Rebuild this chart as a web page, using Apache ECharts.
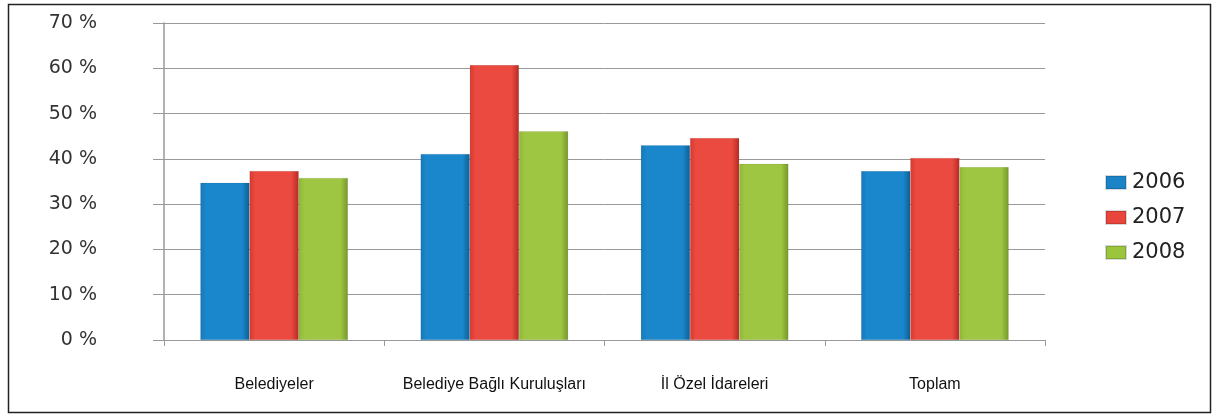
<!DOCTYPE html>
<html>
<head>
<meta charset="utf-8">
<script src="https://cdn.jsdelivr.net/npm/echarts@6/dist/echarts.min.js"></script>
<style>
html, body { margin: 0; padding: 0; background: #fff; }
#chart { width: 1214px; height: 416px; }
</style>
</head>
<body>
<div id="chart"></div>
<script>
var categories = ['Belediyeler', 'Belediye Bağlı Kuruluşları', 'İl Özel İdareleri', 'Toplam'];
var years = ['2006', '2007', '2008'];
var values2006 = [34.7, 41.1, 43.0, 37.3];
var values2007 = [37.3, 60.7, 44.6, 40.2];
var values2008 = [35.8, 46.1, 38.9, 38.2];
var yTicks = [0, 10, 20, 30, 40, 50, 60, 70];

function shade(edge, mid, edge2) {
    return new echarts.graphic.LinearGradient(0, 0, 1, 0, [
        { offset: 0, color: edge },
        { offset: 0.12, color: mid },
        { offset: 0.85, color: mid },
        { offset: 1, color: edge2 }
    ]);
}
var fills = [
    shade('#1679b9', '#1a87cc', '#0e5f94'),
    shade('#d8392f', '#ea4a40', '#b62a23'),
    shade('#8fb838', '#9fc642', '#74982a')
];
var legendColors = ['#1a84c7', '#e8453c', '#9bc53d'];
var seriesData = [values2006, values2007, values2008];

var chart = echarts.init(document.getElementById('chart'));
chart.setOption({
    animation: false,
    grid: { left: 164, right: 169, top: 23, bottom: 76, containLabel: false },
    graphic: [{
        type: 'rect',
        shape: { x: 8.5, y: 4.5, width: 1202, height: 408 },
        style: { fill: 'none', stroke: '#222', lineWidth: 1.5 }
    }],
    legend: {
        orient: 'vertical',
        left: 1100,
        top: 167,
        itemWidth: 20,
        itemHeight: 13,
        itemGap: 14,
        icon: 'rect',
        data: years.map(function (y, i) { return { name: y, itemStyle: { color: legendColors[i] } }; }),
        textStyle: { fontFamily: 'DejaVu Sans', fontSize: 21, color: '#222', padding: [0, 0, 0, 1] }
    },
    xAxis: {
        type: 'category',
        data: categories,
        axisLine: { lineStyle: { color: '#999', width: 1 } },
        axisTick: { show: true, interval: 0, length: 6, lineStyle: { color: '#999' } },
        axisLabel: { interval: 0, margin: 37, fontFamily: 'Liberation Sans Narrow, Arial Narrow, Liberation Sans', fontSize: 16, color: '#111' }
    },
    yAxis: {
        type: 'value',
        min: 0,
        max: 70,
        interval: 10,
        axisLine: { show: true, lineStyle: { color: '#999', width: 1.5 } },
        axisTick: { show: true, length: 11, lineStyle: { color: '#999' } },
        splitLine: { lineStyle: { color: '#999', width: 1 } },
        axisLabel: {
            margin: 67,
            fontFamily: 'DejaVu Sans',
            fontSize: 19,
            color: '#333',
            formatter: function (v) { return yTicks.indexOf(v) >= 0 ? v + ' %' : ''; }
        }
    },
    series: years.map(function (y, i) {
        return {
            name: y,
            type: 'bar',
            data: seriesData[i],
            barGap: '0%',
            barCategoryGap: '33%',
            itemStyle: { color: fills[i], borderColor: 'rgba(0,0,0,0.15)', borderWidth: 0.5 }
        };
    })
});
</script>
</body>
</html>
